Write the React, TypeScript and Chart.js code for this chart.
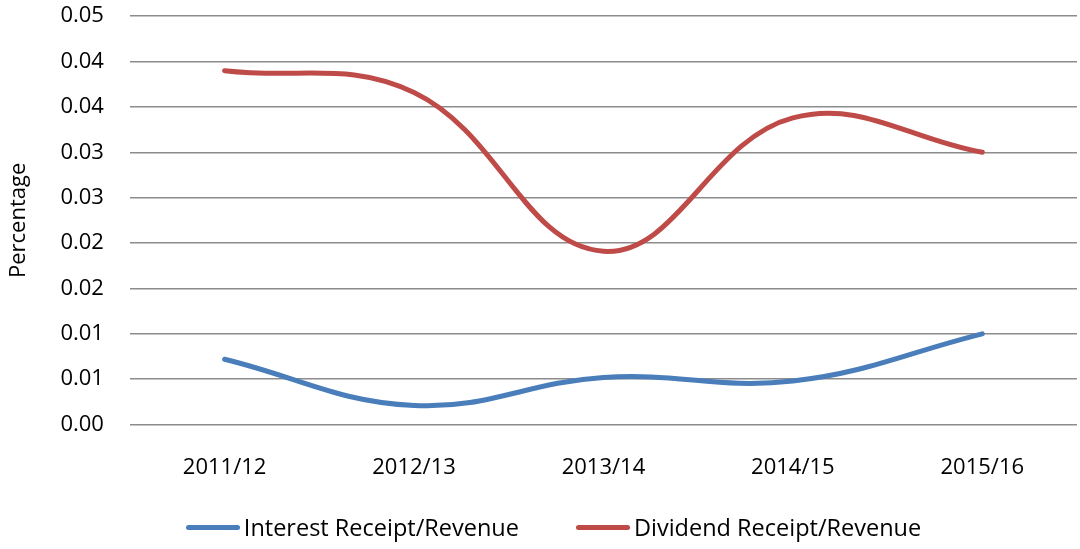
import React, { useEffect, useRef } from "react";
import { Chart, registerables } from "chart.js";

Chart.register(...registerables);

const categories = ["2011/12", "2012/13", "2013/14", "2014/15", "2015/16"];
const interestValues = [0.0072, 0.0021, 0.0052, 0.0048, 0.01];
const dividendValues = [0.039, 0.0366, 0.0191, 0.0338, 0.03];
const seriesNames = ["Interest Receipt/Revenue", "Dividend Receipt/Revenue"];
const seriesColors = ["#4a7ebb", "#be4b48"];

const FONT = "'Open Sans', sans-serif";

export default function App() {
  const ref = useRef<HTMLCanvasElement>(null);
  useEffect(() => {
    if (!ref.current) return;
    const chart = new Chart(ref.current, {
      type: "line",
      data: {
        labels: categories,
        datasets: [
          {
            label: seriesNames[0],
            data: interestValues,
            borderColor: seriesColors[0],
            backgroundColor: seriesColors[0],
            borderWidth: 5,
            pointRadius: 0,
            tension: 0.4,
            borderCapStyle: "round",
          },
          {
            label: seriesNames[1],
            data: dividendValues,
            borderColor: seriesColors[1],
            backgroundColor: seriesColors[1],
            borderWidth: 5,
            pointRadius: 0,
            tension: 0.4,
            borderCapStyle: "round",
          },
        ],
      },
      options: {
        animation: false,
        responsive: false,
        layout: { padding: { top: 0, right: 3, left: 6, bottom: 46 } },
        plugins: {
          legend: { display: false },
          tooltip: { enabled: false },
        },
        scales: {
          x: {
            offset: true,
            grid: { display: false },
            border: { display: false },
            ticks: { color: "#000", font: { family: FONT, size: 22 }, padding: 22 },
          },
          y: {
            min: 0,
            max: 0.045,
            ticks: {
              stepSize: 0.005,
              color: "#000",
              font: { family: FONT, size: 22 },
              padding: 26,
              callback: (v: any) => (Math.round(Number(v) * 100 + 1e-6) / 100).toFixed(2),
            },
            grid: { color: "#8c8c8c", lineWidth: 1.5, drawTicks: false },
            border: { display: false },
            title: {
              display: true,
              text: "Percentage",
              color: "#000",
              font: { family: FONT, size: 22 },
              padding: { top: 0, bottom: 2 },
            },
          },
        },
      },
    });
    return () => chart.destroy();
  }, []);
  return (
    <div style={{ position: "absolute", left: 0, top: 0, width: 1080, height: 549, background: "#fff", overflow: "hidden" }}>
      <canvas
        ref={ref}
        width={1080}
        height={572}
        style={{ display: "block", position: "absolute", left: 0, top: -23 }}
      />
      <div
        style={{
          position: "absolute",
          left: 0,
          width: 1080,
          top: 511,
          height: 32,
          display: "flex",
          justifyContent: "center",
          alignItems: "center",
          gap: 57,
          fontFamily: FONT,
          fontSize: 23.5,
          color: "#000",
          paddingLeft: 27,
          boxSizing: "border-box",
        }}
      >
        {seriesNames.map((name, i) => (
          <div key={name} style={{ display: "flex", alignItems: "center", gap: 4 }}>
            <span style={{ display: "inline-block", width: 54, height: 5, borderRadius: 3, background: seriesColors[i] }} />
            <span>{name}</span>
          </div>
        ))}
      </div>
    </div>
  );
}
